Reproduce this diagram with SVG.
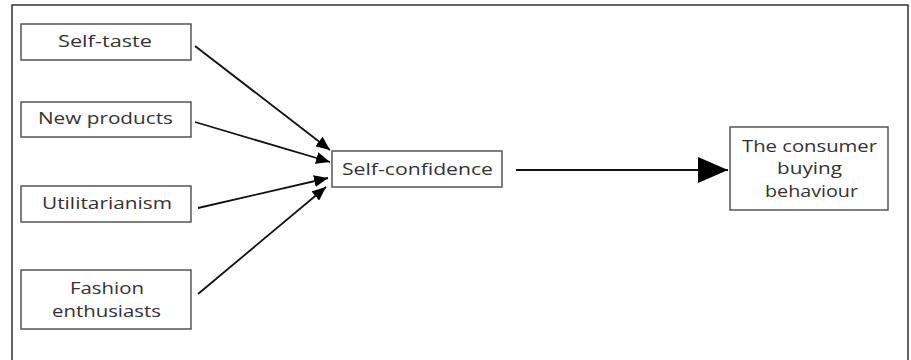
<svg xmlns="http://www.w3.org/2000/svg" width="911" height="360" viewBox="0 0 911 360">
<style>
.box{fill:#fff;stroke:#555;stroke-width:1.5}
.t{font-family:"Open Sans","Noto Sans","Liberation Sans",sans-serif;font-size:17px;fill:#333;text-anchor:middle}
.c{stroke:#111;stroke-width:1.8;fill:none}
</style>
<defs>
<marker id="ah" viewBox="0 0 14 12" refX="14" refY="6" markerWidth="14" markerHeight="12" markerUnits="userSpaceOnUse" orient="auto">
<path d="M0,0 L14,6 L0,12 Z" fill="#000"/>
</marker>
<marker id="ahBig" viewBox="0 0 30 26" refX="30" refY="13" markerWidth="30" markerHeight="26" markerUnits="userSpaceOnUse" orient="auto">
<path d="M0,0 L30,13 L0,26 Z" fill="#000"/>
</marker>
</defs>
<rect width="911" height="360" fill="#fff"/>
<rect x="12" y="5" width="896" height="370" fill="none" stroke="#333" stroke-width="1.5"/>
<g id="connectors">
<line class="c" x1="195" y1="46" x2="330" y2="150" marker-end="url(#ah)"/>
<line class="c" x1="195" y1="122" x2="330" y2="162" marker-end="url(#ah)"/>
<line class="c" x1="198" y1="208" x2="328" y2="178" marker-end="url(#ah)"/>
<line class="c" x1="198" y1="294" x2="326" y2="187" marker-end="url(#ah)"/>
<line class="c" x1="516" y1="170" x2="728" y2="170" stroke-width="2" marker-end="url(#ahBig)"/>
</g>
<g id="self-taste">
<rect class="box" x="21" y="24" width="170" height="36"/>
<text class="t" x="105" y="47" textLength="94" lengthAdjust="spacingAndGlyphs">Self-taste</text>
</g>
<g id="new-products">
<rect class="box" x="21" y="102" width="170" height="35"/>
<text class="t" x="105.5" y="124" textLength="135" lengthAdjust="spacingAndGlyphs">New products</text>
</g>
<g id="utilitarianism">
<rect class="box" x="21" y="186" width="170" height="36"/>
<text class="t" x="107" y="209" textLength="130" lengthAdjust="spacingAndGlyphs">Utilitarianism</text>
</g>
<g id="fashion-enthusiasts">
<rect class="box" x="21" y="270" width="170" height="59"/>
<text class="t" x="107" y="294" textLength="74" lengthAdjust="spacingAndGlyphs">Fashion</text>
<text class="t" x="106.5" y="317" textLength="109" lengthAdjust="spacingAndGlyphs">enthusiasts</text>
</g>
<g id="self-confidence">
<rect class="box" x="332" y="151" width="170" height="36"/>
<text class="t" x="417.5" y="175" textLength="151" lengthAdjust="spacingAndGlyphs">Self-confidence</text>
</g>
<g id="consumer-buying-behaviour">
<rect class="box" x="730" y="127" width="158" height="83"/>
<text class="t" x="809.5" y="152" textLength="135" lengthAdjust="spacingAndGlyphs">The consumer</text>
<text class="t" x="809.5" y="174" textLength="65" lengthAdjust="spacingAndGlyphs">buying</text>
<text class="t" x="811.5" y="197" textLength="93" lengthAdjust="spacingAndGlyphs">behaviour</text>
</g>
</svg>
